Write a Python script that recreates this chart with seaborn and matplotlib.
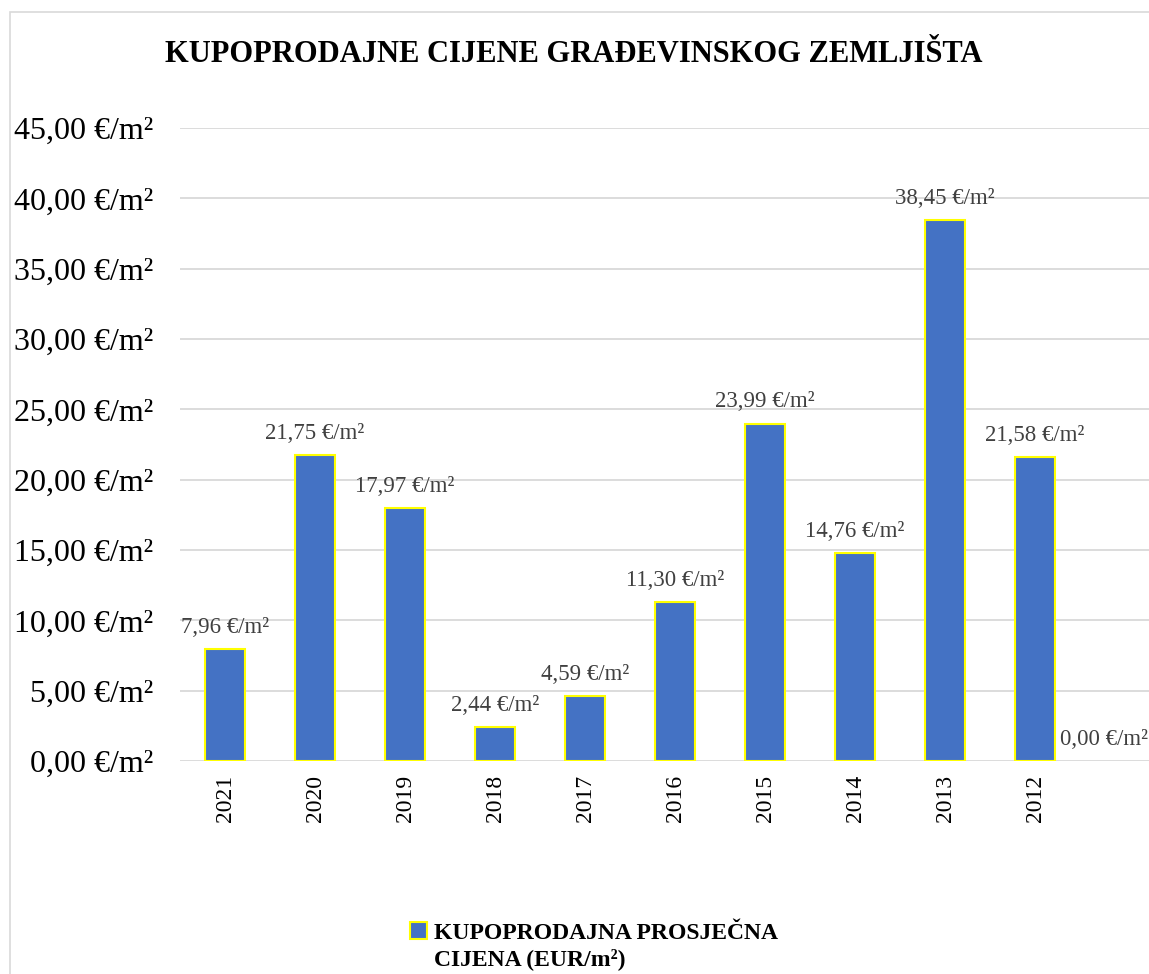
import matplotlib
matplotlib.use("Agg")
import matplotlib.pyplot as plt
import seaborn as sns
import pandas as pd
from matplotlib.patches import Patch, Rectangle

years = ["2021", "2020", "2019", "2018", "2017", "2016", "2015", "2014", "2013", "2012", ""]
prices = [7.96, 21.75, 17.97, 2.44, 4.59, 11.30, 23.99, 14.76, 38.45, 21.58, 0.00]
yticks = [0, 5, 10, 15, 20, 25, 30, 35, 40, 45]

title = "KUPOPRODAJNE CIJENE GRAĐEVINSKOG ZEMLJIŠTA"
legend_lines = ["KUPOPRODAJNA PROSJEČNA", "CIJENA (EUR/m²)"]

sns.set_style("white")
plt.rcParams['font.family'] = ['Liberation Serif', 'DejaVu Serif']
plt.rcParams['text.color'] = 'black'
plt.rcParams['xtick.color'] = 'black'
plt.rcParams['ytick.color'] = 'black'
plt.rcParams['xtick.labelcolor'] = 'black'
plt.rcParams['ytick.labelcolor'] = 'black'

W, H = 1149, 974
fig = plt.figure(figsize=(W/100, H/100), dpi=100)
fig.patches.append(Rectangle((10/W, -0.2), 1.2, 1.2 - 12/H, transform=fig.transFigure,
                             fill=False, edgecolor="#d9d9d9", linewidth=1.2))

left, right = 180/W, 1170/W
bottom, top = 1 - 761/H, 1 - 128/H
ax = fig.add_axes([left, bottom, right - left, top - bottom])

df = pd.DataFrame({"year": years, "price": prices})
sns.barplot(data=df, x="year", y="price", order=years, color="#4472C4",
            width=0.44, edgecolor="#FFFF00", linewidth=1.5, saturation=1, ax=ax)

n = len(prices)
for i, (p, v) in enumerate(zip(ax.patches, prices)):
    if v == 0:
        p.set_linewidth(0)
    # keep the last label pulled inward, as the chart keeps it inside the chart area
    dx = -15 if i == n - 1 else 0
    ax.annotate(f"{v:.2f}".replace(".", ",") + " €/m²",
                (p.get_x() + p.get_width()/2, v), xytext=(dx, 8), textcoords="offset points",
                ha="center", va="bottom", fontsize=16.5, color="#404040")

ax.set_ylim(0, 45)
ax.set_xlim(-0.5, n - 0.5)
ax.set_yticks(yticks)
ax.set_yticklabels([f"{t:.2f}".replace(".", ",") + " €/m²" for t in yticks], fontsize=23)
ax.tick_params(axis="y", length=0, pad=19, labelcolor="black")
ax.tick_params(axis="x", length=0, pad=10, labelsize=17, rotation=90, labelcolor="black")
ax.set_xlabel("")
ax.set_ylabel("")
ax.grid(axis="y", color="#d9d9d9", linewidth=1.3)
ax.set_axisbelow(True)
for s in ax.spines.values():
    s.set_visible(False)

fig.text(574/W, 1 - 55/H, title, ha="center", va="center", fontsize=22, fontweight="bold",
         color="black")

handle = Patch(facecolor="#4472C4", edgecolor="#FFFF00", linewidth=1.5)
leg = fig.legend([handle], [legend_lines[0]], loc="center left", bbox_to_anchor=(410/W, 1 - 933/H),
                 frameon=False, prop={"size": 17, "weight": "bold"}, handlelength=0.7,
                 handleheight=0.7, handletextpad=0.3, borderaxespad=0, borderpad=0)
for t in leg.get_texts():
    t.set_color("black")
fig.canvas.draw()
bb = leg.get_texts()[0].get_window_extent()
fig.text(bb.x0 / W, (bb.y0 - 26) / H, legend_lines[1], ha="left", va="bottom",
         fontsize=17, fontweight="bold", color="black")

fig.savefig("out.png", dpi=100)
